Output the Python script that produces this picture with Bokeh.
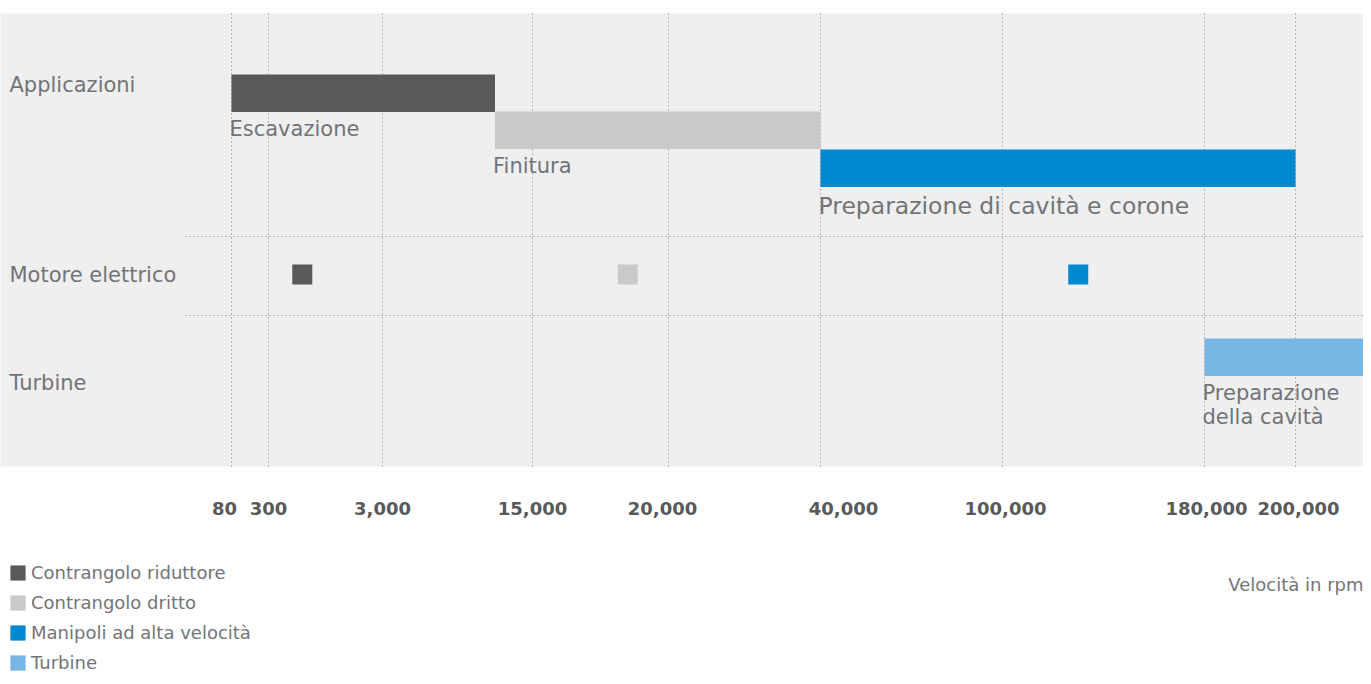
import numpy as np
from bokeh.plotting import figure
from bokeh.models import (ColumnDataSource, Range1d, BoxAnnotation, Legend,
                          LegendItem, Label)
from bokeh.core.properties import value
from bokeh.embed import file_html
from bokeh.resources import INLINE

# ---------------- data ----------------
tick_rpm = [80, 300, 3000, 15000, 20000, 40000, 100000, 180000, 200000]
tick_labels = ["80", "300", "3,000", "15,000", "20,000", "40,000",
               "100,000", "180,000", "200,000"]

row_names = ["Applicazioni", "Motore elettrico", "Turbine"]

app_names = ["Escavazione", "Finitura", "Preparazione di cavità e corone",
             "Preparazione\ndella cavità"]
app_rpm_min = [80, 12000, 40000, 180000]
app_rpm_max = [12000, 40000, 200000, 220000]

handpieces = ["Contrangolo riduttore", "Contrangolo dritto",
              "Manipoli ad alta velocità", "Turbine"]
motor_rpm = [1100, 18500, 130000]

x_title = "Velocità in rpm"

# ---------------- layout / style ----------------
colors = ["#58595B", "#C8C9CA", "#0088D1", "#77B5E3"]
TEXT = "#737477"
TICK = "#58595B"
FONT = "DejaVu Sans"
W, H = 1363, 676

tick_pos = [231, 268, 382, 532, 668, 820, 1002, 1204, 1295]   # axis positions
tick_label_shift = [-7, 0, 0, 0, -6, 23, 3, 2, 3]
bar_tops = [74, 111, 149, 338]
bar_h = 37.5
bar_label_sizes = ["21px", "21px", "23.5px", "21px"]
row_y = [84, 274, 382]
motor_row = 1
plot_top, plot_bottom = 13, 466
sep_y = [236, 315]


def rpm_to_x(r):
    r = np.asarray(r, dtype=float)
    x = np.interp(r, tick_rpm, tick_pos)
    slope = (tick_pos[-1] - tick_pos[-2]) / (tick_rpm[-1] - tick_rpm[-2])
    return np.where(r > tick_rpm[-1], tick_pos[-1] + (r - tick_rpm[-1]) * slope, x)


p = figure(width=W, height=H, output_backend="svg", toolbar_location=None,
           x_range=Range1d(0, W), y_range=Range1d(H, 0),
           x_axis_type=None, y_axis_type=None, min_border=0)
p.outline_line_color = None
p.grid.visible = False
p.background_fill_color = "white"

p.add_layout(BoxAnnotation(left=-10, right=W + 10, top=plot_top, bottom=plot_bottom,
                           fill_color="#EEEFEE", fill_alpha=1, line_color=None,
                           level="underlay"))

# grid lines
p.segment(x0=tick_pos, x1=tick_pos, y0=plot_top, y1=plot_bottom,
          line_color="#7A7A7A", line_dash="1 3", line_width=1)
p.segment(x0=[185] * len(sep_y), x1=[W] * len(sep_y), y0=sep_y, y1=sep_y,
          line_color="#7A7A7A", line_dash="1 3", line_width=1)

# bars
lefts = rpm_to_x(app_rpm_min)
rights = rpm_to_x(app_rpm_max)
src = ColumnDataSource(dict(left=lefts, right=rights,
                            top=bar_tops, bottom=[t + bar_h for t in bar_tops],
                            color=colors, name=app_names,
                            lx=lefts - 2, ly=[t + bar_h + 5 for t in bar_tops],
                            fs=bar_label_sizes))
bars = p.quad(left="left", right="right", top="top", bottom="bottom",
              fill_color="color", line_color=None, source=src)

# bar labels
p.text(x="lx", y="ly", text="name", source=src,
       text_font=value(FONT), text_font_size="fs", text_color=TEXT,
       text_align="left", text_baseline="top", text_line_height=1.0)

# electric motor markers
p.scatter(x=rpm_to_x(motor_rpm), y=[row_y[motor_row]] * len(motor_rpm),
          marker="square", size=20, fill_color=colors[:3], line_color=None)

# row labels
p.text(x=[9] * len(row_names), y=row_y, text=row_names,
       text_font=value(FONT), text_font_size="21px", text_color=TEXT,
       text_align="left", text_baseline="middle")

# tick labels
p.text(x=[a + b for a, b in zip(tick_pos, tick_label_shift)],
       y=[508] * len(tick_pos), text=tick_labels,
       text_font=value(FONT), text_font_size="18px", text_font_style="bold",
       text_color=TICK, text_align="center", text_baseline="middle")

p.add_layout(Label(x=W, y=584, text=x_title, text_align="right",
                   text_baseline="middle", text_font=FONT,
                   text_font_size="18px", text_color=TEXT))

legend = Legend(items=[LegendItem(label=h, renderers=[bars], index=i)
                       for i, h in enumerate(handpieces)],
                location=(8, 3), orientation="vertical",
                glyph_width=19, glyph_height=19, label_height=22,
                spacing=8, padding=0, margin=0, label_standoff=4,
                label_text_font=FONT, label_text_font_size="18px",
                label_text_color=TEXT, border_line_color=None,
                background_fill_alpha=0)
p.add_layout(legend)

open("out.html", "w").write(file_html(p, INLINE))
